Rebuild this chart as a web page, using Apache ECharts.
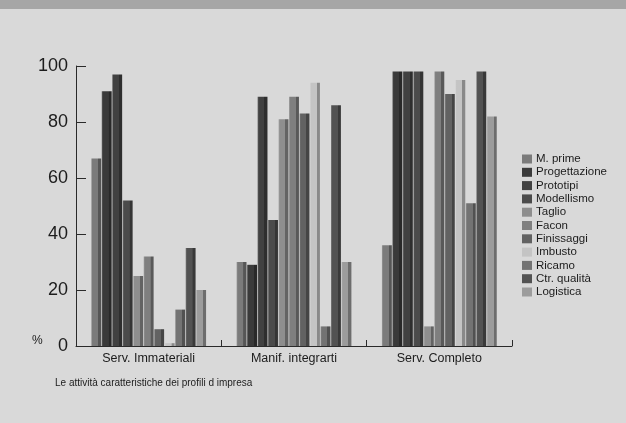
<!DOCTYPE html>
<html>
<head>
<meta charset="utf-8">
<script src="https://cdn.jsdelivr.net/npm/echarts@6/dist/echarts.min.js"></script>
<style>
  html, body { margin: 0; padding: 0; background: #d9d9d9; }
  #chart { width: 626px; height: 423px; }
</style>
</head>
<body>
<div id="chart"></div>
<script>
// Company profiles on the x axis
const categories = ['Serv. Immateriali', 'Manif. integrarti', 'Serv. Completo'];

// Activities (one series each) and their grey tones
const activities = ['M. prime', 'Progettazione', 'Prototipi', 'Modellismo', 'Taglio', 'Facon',
  'Finissaggi', 'Imbusto', 'Ricamo', 'Ctr. qualità', 'Logistica'];
const tones = ['#7b7b7b', '#3a3a3a', '#414141', '#4b4b4b', '#8e8e8e', '#7f7f7f',
  '#626262', '#c4c4c4', '#737373', '#525252', '#9c9c9c'];

// Share of firms (%) per activity, in the order of the categories
const mPrime        = [67, 30, 36];
const progettazione = [91, 29, 98];
const prototipi     = [97, 89, 98];
const modellismo    = [52, 45, 98];
const taglio        = [25, 81, 7];
const facon         = [32, 89, 98];
const finissaggi    = [6, 83, 90];
const imbusto       = [1, 94, 95];
const ricamo        = [13, 7, 51];
const ctrQualita    = [35, 86, 98];
const logistica     = [20, 30, 82];
const values = [mPrime, progettazione, prototipi, modellismo, taglio, facon,
  finissaggi, imbusto, ricamo, ctrQualita, logistica];

const yTicks = [0, 20, 40, 60, 80, 100];

function shade(hex, f) {
  const n = parseInt(hex.slice(1), 16);
  const c = [(n >> 16) & 255, (n >> 8) & 255, n & 255].map(v =>
    Math.max(0, Math.min(255, Math.round(f > 0 ? v + (255 - v) * f : v * (1 + f)))));
  return 'rgb(' + c.join(',') + ')';
}

// Prism-like shading: lit front face and a darker side strip
function prism(hex) {
  return {
    type: 'linear', x: 0, y: 0, x2: 1, y2: 0,
    colorStops: [
      { offset: 0, color: shade(hex, 0.25) },
      { offset: 0.12, color: hex },
      { offset: 0.68, color: hex },
      { offset: 0.7, color: shade(hex, -0.3) },
      { offset: 1, color: shade(hex, -0.3) }
    ]
  };
}

const font = 'Liberation Sans, Arial, Helvetica, sans-serif';
const chart = echarts.init(document.getElementById('chart'), null, { renderer: 'canvas' });

chart.setOption({
  animation: false,
  backgroundColor: '#d9d9d9',
  textStyle: { fontFamily: font, color: '#1c1c1c' },
  grid: { left: 76, right: 114, top: 66, bottom: 77, containLabel: false },
  graphic: [
    { type: 'rect', left: 0, top: 0, shape: { width: 626, height: 9 }, style: { fill: '#a6a6a6' }, silent: true },
    { type: 'text', left: 32, top: 335, style: { text: '%', font: '12px ' + font, fill: '#1c1c1c' } },
    { type: 'text', left: 55, top: 378, style: { text: 'Le attività caratteristiche dei profili d impresa',
      font: '10px ' + font, fill: '#1c1c1c' } }
  ],
  legend: {
    orient: 'vertical',
    left: 517, top: 148,
    itemWidth: 10, itemHeight: 9, itemGap: 1.3,
    icon: 'rect',
    textStyle: { fontSize: 11.5, fontFamily: font, color: '#1c1c1c', lineHeight: 11, padding: [0, 0, 0, -1] },
    data: activities.map((name, i) => ({ name, itemStyle: { color: tones[i] } }))
  },
  xAxis: {
    type: 'category',
    data: categories,
    axisLine: { show: true, lineStyle: { color: '#2a2a2a', width: 1 } },
    axisTick: { show: true, inside: true, length: 6, alignWithLabel: false, lineStyle: { color: '#2a2a2a' } },
    axisLabel: { fontSize: 12.5, color: '#1c1c1c', margin: 6, fontFamily: font }
  },
  yAxis: {
    type: 'value',
    min: 0, max: 100, interval: 20,
    axisLine: { show: true, lineStyle: { color: '#2a2a2a', width: 1 } },
    axisTick: { show: true, inside: true, length: 10, lineStyle: { color: '#2a2a2a' } },
    axisLabel: {
      fontSize: 18, color: '#1c1c1c', margin: 8, fontFamily: font,
      formatter: v => yTicks.includes(v) ? String(v) : ''
    },
    splitLine: { show: false }
  },
  series: activities.map((name, i) => ({
    name,
    type: 'bar',
    data: values[i],
    barGap: '6%',
    barCategoryGap: '21%',
    itemStyle: { color: prism(tones[i]) },
    emphasis: { disabled: true }
  }))
});
</script>
</body>
</html>
